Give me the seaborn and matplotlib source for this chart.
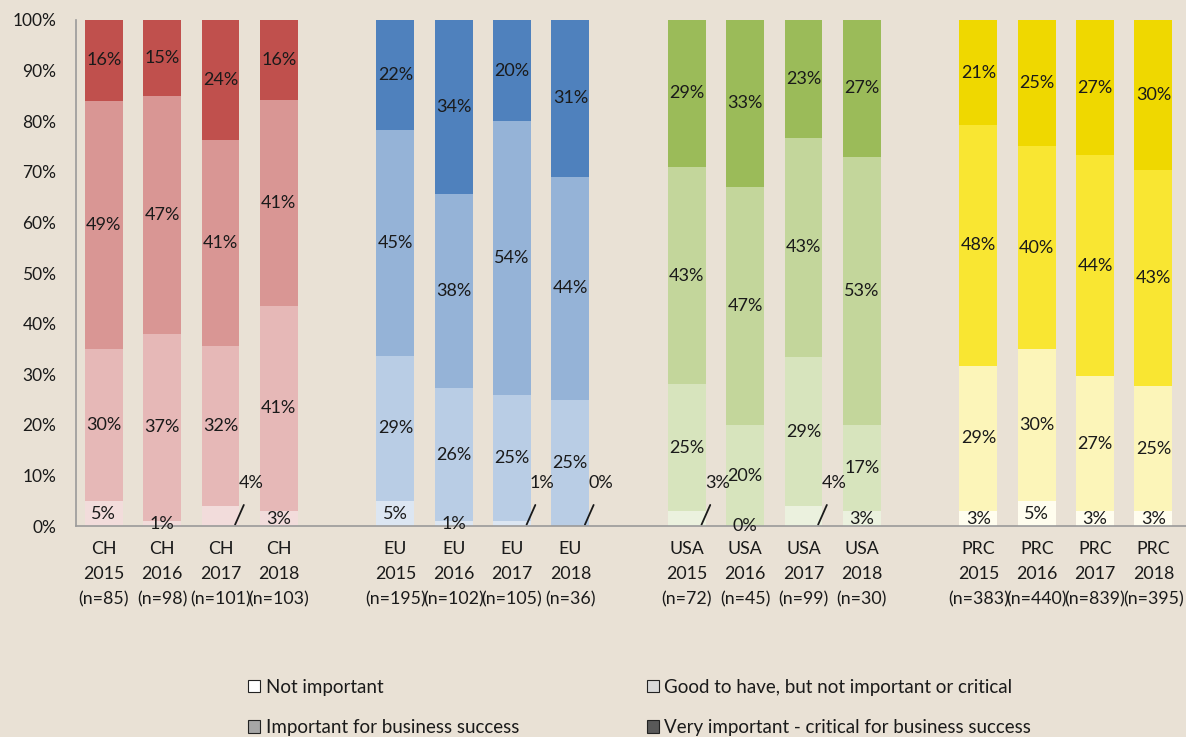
import numpy as np
import pandas as pd
import matplotlib
matplotlib.use("Agg")
import matplotlib.pyplot as plt
from matplotlib.patches import Patch
import seaborn as sns

# ---- data ----
regions = ["CH", "EU", "USA", "PRC"]
years = ["2015", "2016", "2017", "2018"]
sample_n = {
    "CH": [85, 98, 101, 103],
    "EU": [195, 102, 105, 36],
    "USA": [72, 45, 99, 30],
    "PRC": [383, 440, 839, 395],
}
not_important = {"CH": [5, 1, 4, 3], "EU": [5, 1, 1, 0], "USA": [3, 0, 4, 3], "PRC": [3, 5, 3, 3]}
good_to_have = {"CH": [30, 37, 32, 41], "EU": [29, 26, 25, 25], "USA": [25, 20, 29, 17], "PRC": [29, 30, 27, 25]}
important = {"CH": [49, 47, 41, 41], "EU": [45, 38, 54, 44], "USA": [43, 47, 43, 53], "PRC": [48, 40, 44, 43]}
very_important = {"CH": [16, 15, 24, 16], "EU": [22, 34, 20, 31], "USA": [29, 33, 23, 27], "PRC": [21, 25, 27, 30]}
legend_labels = ["Not important", "Good to have, but not important or critical",
                 "Important for business success", "Very important - critical for business success"]

# ---- styles ----
colors = {
    "CH":  ["#F2DCDB", "#E6B8B7", "#D99694", "#C0504D"],
    "EU":  ["#DCE6F2", "#B9CDE5", "#95B3D7", "#4F81BD"],
    "USA": ["#EBF1DE", "#D7E4BD", "#C3D69B", "#9BBB59"],
    "PRC": ["#FFFDEE", "#FCF5B9", "#F9E632", "#EFD800"],
}
legend_colors = ["#FFFFFF", "#D9D9D9", "#A6A6A6", "#595959"]
bg = "#E9E1D5"

rows = []
for gi, r in enumerate(regions):
    for yi, y in enumerate(years):
        vals = [not_important[r][yi], good_to_have[r][yi], important[r][yi], very_important[r][yi]]
        rows.append(dict(region=r, year=y, pos=gi * 5 + yi, n=sample_n[r][yi],
                         v0=vals[0], v1=vals[1], v2=vals[2], v3=vals[3]))
df = pd.DataFrame(rows)
tot = df[["v0", "v1", "v2", "v3"]].sum(axis=1)
for k in range(4):
    df[f"c{k}"] = df[[f"v{j}" for j in range(k + 1)]].sum(axis=1) / tot * 100

sns.set_theme(style="white")
plt.rcParams["font.family"] = ["Lato", "DejaVu Sans"]

fig = plt.figure(figsize=(11.86, 7.37), dpi=100, facecolor=bg)
ax = fig.add_axes([0.064, 0.286, 0.936, 0.687])
ax.set_facecolor(bg)

for k in [3, 2, 1, 0]:
    pal = {r: colors[r][k] for r in regions}
    sns.barplot(data=df, x="pos", y=f"c{k}", hue="region", palette=pal, native_scale=True,
                dodge=False, width=0.65, legend=False, ax=ax, linewidth=0, saturation=1)

# data labels
lab_fs = 13
outside = {("CH", "2017"), ("EU", "2017"), ("EU", "2018"), ("USA", "2015"), ("USA", "2017")}
for _, row in df.iterrows():
    lows = [0, row.c0, row.c1, row.c2]
    highs = [row.c0, row.c1, row.c2, row.c3]
    for k in range(4):
        v = row[f"v{k}"]
        if k == 0 and (row.region, row.year) in outside:
            x0 = row.pos + 0.25
            ax.plot([x0, x0 + 0.15], [0.3, 4.2], color="#1a1a1a", lw=1.3)
            ax.text(row.pos + 0.52, 8.6, f"{v}%", ha="center", va="center", fontsize=lab_fs, color="#1a1a1a")
            continue
        yc = (lows[k] + highs[k]) / 2
        ax.text(row.pos, yc, f"{v}%", ha="center", va="center", fontsize=lab_fs, color="#1a1a1a")

ax.set_xlim(-0.48, 18.56)
ax.set_ylim(0, 100)
ax.set_yticks(np.arange(0, 101, 10))
ax.set_yticklabels([f"{t}%" for t in range(0, 101, 10)], fontsize=12.5, color="#1a1a1a")
ax.set_xticks(df["pos"])
ax.set_xticklabels([f"{r}\n{y}\n(n={n})" for r, y, n in zip(df.region, df.year, df.n)],
                   fontsize=12.8, color="#1a1a1a", linespacing=1.68)
ax.tick_params(axis="x", length=0, pad=11)
ax.tick_params(axis="y", length=0, pad=14)
ax.set_xlabel("")
ax.set_ylabel("")
for s in ["top", "right"]:
    ax.spines[s].set_visible(False)
for s in ["left", "bottom"]:
    ax.spines[s].set_color("#9a9a9a")
    ax.spines[s].set_linewidth(1.2)

order = [0, 2, 1, 3]
handles = [Patch(facecolor=legend_colors[i], edgecolor="#222222", linewidth=0.8) for i in order]
labels = [legend_labels[i] for i in order]
leg = fig.legend(handles, labels, ncol=2, loc="upper left", bbox_to_anchor=(0.209, 0.079),
                 frameon=False, fontsize=13.5, handlelength=0.65, handleheight=0.65, handletextpad=0.3,
                 columnspacing=6.8, labelspacing=1.25, borderaxespad=0, borderpad=0)
for t in leg.get_texts():
    t.set_color("#1a1a1a")

fig.savefig("out.png", dpi=100, facecolor=bg)
